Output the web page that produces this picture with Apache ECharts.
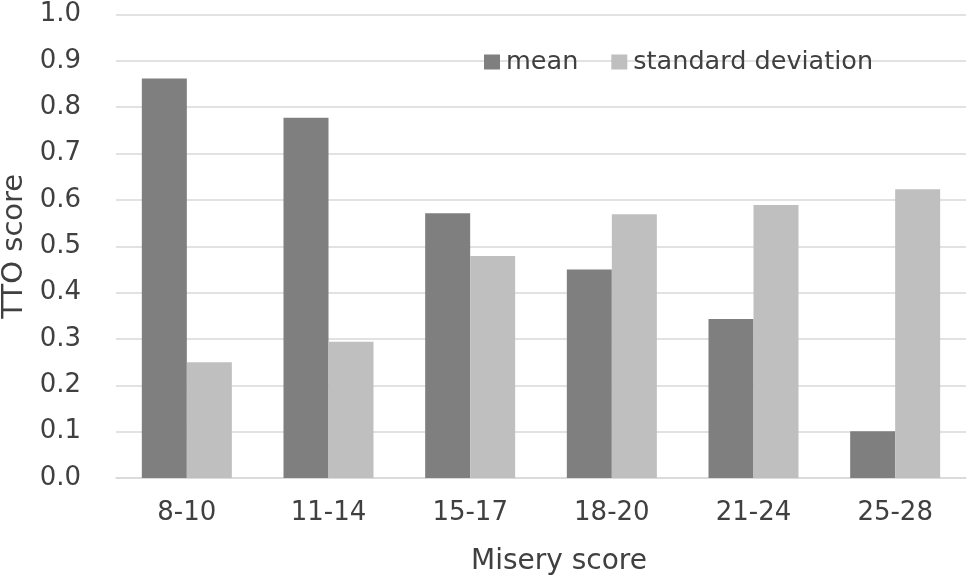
<!DOCTYPE html>
<html>
<head>
<meta charset="utf-8">
<script src="https://cdn.jsdelivr.net/npm/echarts@6/dist/echarts.min.js"></script>
<style>
html,body{margin:0;padding:0;background:#fff;}
#chart{width:969px;height:582px;}
</style>
</head>
<body>
<div id="chart"></div>
<script>
var categories = ['8-10', '11-14', '15-17', '18-20', '21-24', '25-28'];
var meanValues = [0.862, 0.777, 0.571, 0.450, 0.343, 0.101];
var sdValues = [0.250, 0.294, 0.479, 0.569, 0.589, 0.623];
var seriesNames = ['mean', 'standard deviation'];

var FONT = 'DejaVu Sans';
var TXT = '#404040';
var chart = echarts.init(document.getElementById('chart'), null, {renderer: 'canvas'});
chart.setOption({
  animation: false,
  backgroundColor: '#ffffff',
  textStyle: {fontFamily: FONT, color: TXT},
  grid: {left: 116, right: 3, top: 14.5, bottom: 104, containLabel: false, outerBoundsMode: 'none'},
  legend: {
    data: seriesNames,
    left: 484, top: 47, padding: 0,
    icon: 'rect', itemWidth: 16, itemHeight: 15, itemGap: 33,
    textStyle: {fontFamily: FONT, fontSize: 25.5, color: TXT, lineHeight: 30, padding: [0, 0, 0, 1]}
  },
  xAxis: {
    type: 'category',
    data: categories,
    name: 'Misery score',
    nameLocation: 'middle',
    nameGap: 70,
    nameTextStyle: {fontFamily: FONT, fontSize: 28, color: TXT, padding: [0, 0, 0, 36]},
    axisLine: {show: true, lineStyle: {color: '#d9d9d9', width: 1.5}},
    axisTick: {show: false},
    axisLabel: {fontFamily: FONT, fontSize: 26, color: TXT, margin: 22}
  },
  yAxis: {
    type: 'value',
    min: 0, max: 1, interval: 0.1,
    name: 'TTO score',
    nameLocation: 'middle',
    nameGap: 84,
    nameTextStyle: {fontFamily: FONT, fontSize: 29, color: TXT},
    axisLine: {show: false},
    axisTick: {show: false},
    splitLine: {lineStyle: {color: '#d9d9d9', width: 1.5}},
    axisLabel: {fontFamily: FONT, fontSize: 26, color: TXT, margin: 35,
      formatter: function (v) { return v.toFixed(1); }}
  },
  series: [
    {name: seriesNames[0], type: 'bar', data: meanValues, barWidth: 45, barGap: '0%',
     itemStyle: {color: '#7f7f7f'}},
    {name: seriesNames[1], type: 'bar', data: sdValues, barWidth: 45, barGap: '0%',
     itemStyle: {color: '#bfbfbf'}}
  ]
});
</script>
</body>
</html>
